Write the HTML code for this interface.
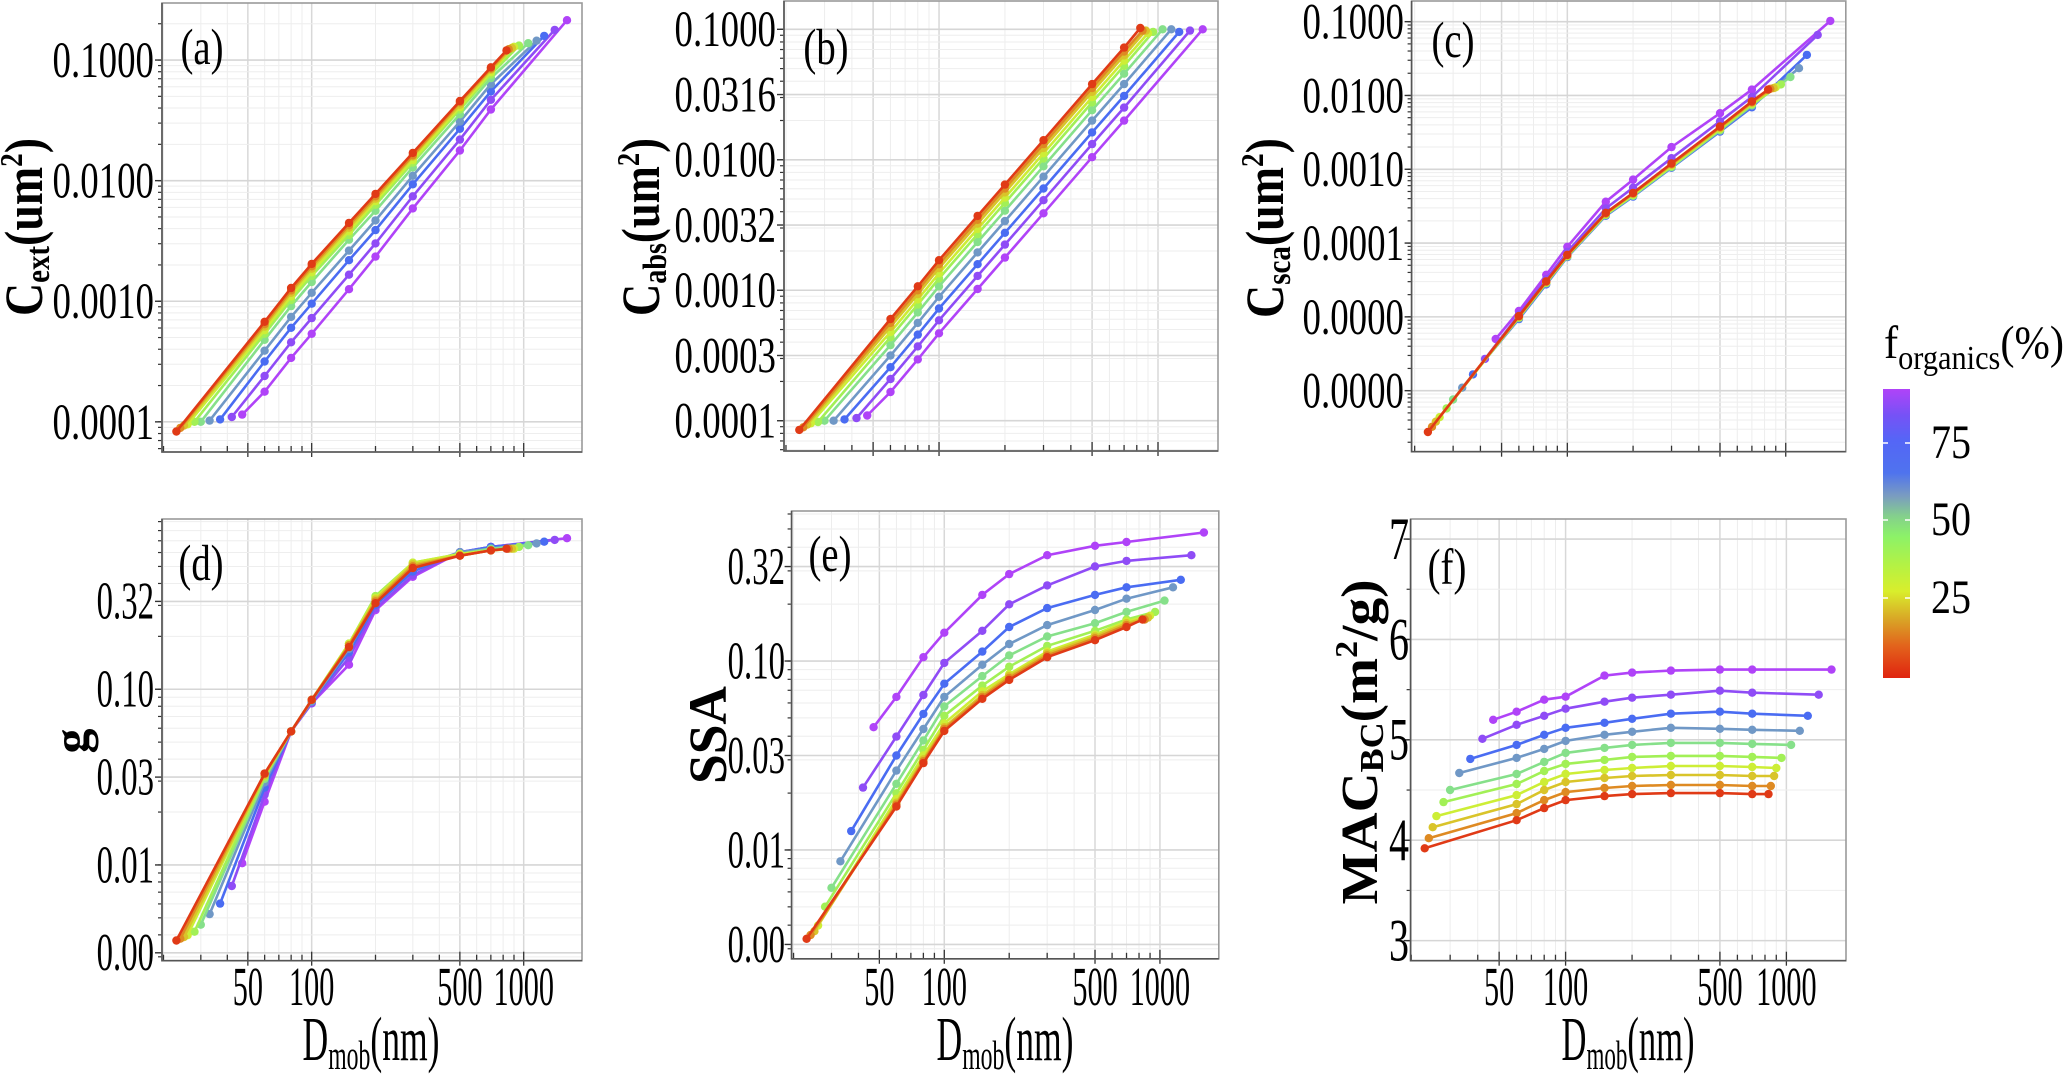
<!DOCTYPE html>
<html>
<head>
<meta charset="utf-8">
<style>
html,body{margin:0;padding:0;background:#fff;}
svg{display:block;font-family:"Liberation Serif",serif;}
</style>
</head>
<body>
<svg id="fig" width="2067" height="1076" viewBox="0 0 2067 1076" xmlns="http://www.w3.org/2000/svg">
<rect x="0" y="0" width="2067" height="1076" fill="#fff"/>
<g id="pa"></g>
<g id="pb"></g>
<g id="pc"></g>
<g id="pd"></g>
<g id="pe"></g>
<g id="pf"></g>

<!-- y axis titles -->
<text transform="translate(42,227) rotate(-90)" text-anchor="middle" font-weight="bold" font-size="54" textLength="178" lengthAdjust="spacingAndGlyphs">C<tspan font-size="34" dy="7">ext</tspan><tspan dy="-7">(um</tspan><tspan font-size="32" dy="-20">2</tspan><tspan dy="20">)</tspan></text>
<text transform="translate(659,227) rotate(-90)" text-anchor="middle" font-weight="bold" font-size="54" textLength="178" lengthAdjust="spacingAndGlyphs">C<tspan font-size="34" dy="7">abs</tspan><tspan dy="-7">(um</tspan><tspan font-size="32" dy="-20">2</tspan><tspan dy="20">)</tspan></text>
<text transform="translate(1283,228) rotate(-90)" text-anchor="middle" font-weight="bold" font-size="54" textLength="180" lengthAdjust="spacingAndGlyphs">C<tspan font-size="34" dy="7">sca</tspan><tspan dy="-7">(um</tspan><tspan font-size="32" dy="-20">2</tspan><tspan dy="20">)</tspan></text>
<text transform="translate(88,741) rotate(-90)" text-anchor="middle" font-weight="bold" font-size="50">g</text>
<text transform="translate(726,735) rotate(-90)" text-anchor="middle" font-weight="bold" font-size="54" textLength="98" lengthAdjust="spacingAndGlyphs">SSA</text>
<text transform="translate(1377,742) rotate(-90)" text-anchor="middle" font-weight="bold" font-size="52" textLength="325" lengthAdjust="spacingAndGlyphs">MAC<tspan font-size="34" dy="6">BC</tspan><tspan dy="-6">(m</tspan><tspan font-size="32" dy="-20">2</tspan><tspan dy="20">/g)</tspan></text>

<!-- x axis titles -->
<text transform="translate(371,1060) scale(1,1.15)" text-anchor="middle" font-size="54" textLength="137" lengthAdjust="spacingAndGlyphs">D<tspan font-size="36" dy="8">mob</tspan><tspan dy="-8">(nm)</tspan></text>
<text transform="translate(1005,1060) scale(1,1.15)" text-anchor="middle" font-size="54" textLength="137" lengthAdjust="spacingAndGlyphs">D<tspan font-size="36" dy="8">mob</tspan><tspan dy="-8">(nm)</tspan></text>
<text transform="translate(1628,1060) scale(1,1.15)" text-anchor="middle" font-size="54" textLength="133" lengthAdjust="spacingAndGlyphs">D<tspan font-size="36" dy="8">mob</tspan><tspan dy="-8">(nm)</tspan></text>

<!-- colorbar -->
<defs>
<linearGradient id="cbgrad" x1="0" y1="1" x2="0" y2="0">
<stop offset="0" stop-color="#e0240f"/>
<stop offset="0.11" stop-color="#e2621c"/>
<stop offset="0.2" stop-color="#d9a326"/>
<stop offset="0.3" stop-color="#d9ee2c"/>
<stop offset="0.39" stop-color="#b4f244"/>
<stop offset="0.49" stop-color="#8cf268"/>
<stop offset="0.56" stop-color="#84d08c"/>
<stop offset="0.63" stop-color="#7a9cc0"/>
<stop offset="0.71" stop-color="#4f73ee"/>
<stop offset="0.82" stop-color="#5466f6"/>
<stop offset="0.91" stop-color="#7652f6"/>
<stop offset="1" stop-color="#b043f8"/>
</linearGradient>
</defs>
<g>
<text transform="translate(1884,358) scale(1,1.12)" font-size="42" textLength="180" lengthAdjust="spacingAndGlyphs">f<tspan font-size="30" dy="10">organics</tspan><tspan dy="-10">(%)</tspan></text>
<rect x="1883" y="389" width="27" height="289" fill="url(#cbgrad)"/>
<line x1="1883" y1="443" x2="1888" y2="443" stroke="#fff" stroke-width="1.5"/>
<line x1="1905" y1="443" x2="1910" y2="443" stroke="#fff" stroke-width="1.5"/>
<line x1="1883" y1="520" x2="1888" y2="520" stroke="#fff" stroke-width="1.5"/>
<line x1="1905" y1="520" x2="1910" y2="520" stroke="#fff" stroke-width="1.5"/>
<line x1="1883" y1="598" x2="1888" y2="598" stroke="#fff" stroke-width="1.5"/>
<line x1="1905" y1="598" x2="1910" y2="598" stroke="#fff" stroke-width="1.5"/>
<text transform="translate(1931,458) scale(1,1.2)" font-size="40">75</text>
<text transform="translate(1931,535) scale(1,1.2)" font-size="40">50</text>
<text transform="translate(1931,613) scale(1,1.2)" font-size="40">25</text>
</g>
</svg>

<script>
// ---- shared data ----
const fOrganics = [5, 15, 25, 35, 45, 55, 65, 75, 85, 95];
const dStart = [23, 24, 25, 26, 28, 30, 33, 37, 42, 47];
const dGrid = [60, 80, 100, 150, 200, 300, 500, 700];
const dEnd = [830, 850, 880, 900, 950, 1050, 1150, 1250, 1400, 1600];

// log10 of C_ext (um^2): [start, grid..., end]
const cextLog = [
  [-4.08,-3.17,-2.89,-2.69,-2.35,-2.11,-1.77,-1.34,-1.06,-0.92],
  [-4.05,-3.19,-2.91,-2.71,-2.37,-2.13,-1.79,-1.35,-1.07,-0.91],
  [-4.03,-3.21,-2.93,-2.73,-2.39,-2.15,-1.80,-1.37,-1.08,-0.90],
  [-4.02,-3.24,-2.96,-2.76,-2.42,-2.17,-1.83,-1.39,-1.10,-0.89],
  [-4.00,-3.27,-2.99,-2.79,-2.45,-2.20,-1.85,-1.41,-1.12,-0.88],
  [-4.00,-3.32,-3.04,-2.84,-2.49,-2.25,-1.89,-1.45,-1.15,-0.86],
  [-3.99,-3.41,-3.13,-2.93,-2.58,-2.33,-1.96,-1.51,-1.20,-0.84],
  [-3.98,-3.50,-3.22,-3.02,-2.66,-2.41,-2.03,-1.57,-1.26,-0.80],
  [-3.96,-3.62,-3.34,-3.14,-2.78,-2.52,-2.13,-1.66,-1.33,-0.75],
  [-3.94,-3.75,-3.47,-3.27,-2.90,-2.63,-2.23,-1.75,-1.41,-0.67]
];
// log10 of C_abs
const cabsLog = [
  [-4.07,-3.22,-2.97,-2.77,-2.43,-2.19,-1.85,-1.42,-1.14,-0.99],
  [-4.05,-3.25,-3.00,-2.80,-2.46,-2.22,-1.88,-1.45,-1.17,-1.01],
  [-4.03,-3.28,-3.03,-2.83,-2.49,-2.25,-1.91,-1.48,-1.20,-1.01],
  [-4.02,-3.32,-3.07,-2.87,-2.53,-2.29,-1.95,-1.52,-1.24,-1.03],
  [-4.01,-3.36,-3.11,-2.91,-2.57,-2.33,-1.99,-1.56,-1.28,-1.02],
  [-4.00,-3.42,-3.17,-2.97,-2.63,-2.39,-2.05,-1.62,-1.34,-1.00],
  [-4.00,-3.50,-3.25,-3.05,-2.71,-2.47,-2.13,-1.70,-1.42,-1.00],
  [-3.99,-3.59,-3.34,-3.14,-2.80,-2.56,-2.22,-1.79,-1.51,-1.02],
  [-3.98,-3.68,-3.43,-3.23,-2.89,-2.65,-2.31,-1.88,-1.60,-1.01],
  [-3.96,-3.78,-3.53,-3.33,-2.99,-2.75,-2.41,-1.98,-1.70,-1.00]
];
// log10 of C_sca
const cscaLog = [
  [-6.56,-4.99,-4.52,-4.16,-3.59,-3.32,-2.92,-2.42,-2.08,-1.92],
  [-6.49,-4.99,-4.52,-4.16,-3.60,-3.33,-2.93,-2.43,-2.09,-1.91],
  [-6.42,-5.00,-4.53,-4.17,-3.60,-3.33,-2.94,-2.44,-2.10,-1.90],
  [-6.36,-5.00,-4.53,-4.17,-3.61,-3.34,-2.95,-2.45,-2.11,-1.89],
  [-6.24,-5.01,-4.54,-4.18,-3.61,-3.35,-2.96,-2.46,-2.12,-1.85],
  [-6.12,-5.01,-4.54,-4.18,-3.62,-3.36,-2.97,-2.47,-2.13,-1.75],
  [-5.96,-5.02,-4.55,-4.18,-3.62,-3.36,-2.97,-2.48,-2.14,-1.63],
  [-5.78,-5.03,-4.56,-4.19,-3.63,-3.37,-2.98,-2.49,-2.16,-1.45],
  [-5.57,-4.97,-4.49,-4.12,-3.53,-3.25,-2.85,-2.35,-2.02,-1.18],
  [-5.30,-4.92,-4.43,-4.05,-3.44,-3.14,-2.70,-2.24,-1.92,-0.99]
];
// log10 of asymmetry parameter g
const gLog = [
  [-2.43,-1.48,-1.24,-1.06,-0.76,-0.51,-0.31,-0.24,-0.21,-0.20],
  [-2.42,-1.48,-1.24,-1.06,-0.75,-0.50,-0.30,-0.24,-0.21,-0.20],
  [-2.41,-1.49,-1.24,-1.06,-0.75,-0.49,-0.29,-0.24,-0.21,-0.20],
  [-2.40,-1.49,-1.24,-1.06,-0.74,-0.48,-0.28,-0.23,-0.21,-0.20],
  [-2.38,-1.50,-1.24,-1.06,-0.74,-0.47,-0.28,-0.23,-0.21,-0.19],
  [-2.34,-1.51,-1.24,-1.06,-0.75,-0.48,-0.29,-0.23,-0.20,-0.18],
  [-2.28,-1.53,-1.24,-1.07,-0.77,-0.50,-0.31,-0.22,-0.20,-0.17],
  [-2.22,-1.56,-1.24,-1.07,-0.79,-0.52,-0.33,-0.22,-0.19,-0.16],
  [-2.12,-1.60,-1.24,-1.08,-0.82,-0.54,-0.35,-0.22,-0.19,-0.15],
  [-1.99,-1.64,-1.24,-1.08,-0.86,-0.55,-0.36,-0.22,-0.19,-0.14]
];
// log10 of SSA
const ssaLog = [
  [-2.47,-1.77,-1.54,-1.37,-1.20,-1.10,-0.98,-0.89,-0.82,-0.78],
  [-2.45,-1.76,-1.53,-1.36,-1.19,-1.09,-0.97,-0.88,-0.81,-0.78],
  [-2.43,-1.75,-1.52,-1.35,-1.18,-1.08,-0.96,-0.87,-0.80,-0.77],
  [-2.40,-1.73,-1.50,-1.33,-1.16,-1.07,-0.95,-0.86,-0.79,-0.76],
  [-2.30,-1.70,-1.47,-1.29,-1.13,-1.03,-0.92,-0.84,-0.78,-0.74],
  [-2.20,-1.65,-1.42,-1.24,-1.08,-0.97,-0.87,-0.80,-0.74,-0.68],
  [-2.06,-1.58,-1.36,-1.19,-1.02,-0.91,-0.81,-0.73,-0.67,-0.61],
  [-1.90,-1.50,-1.28,-1.12,-0.95,-0.82,-0.72,-0.65,-0.61,-0.57],
  [-1.67,-1.40,-1.18,-1.01,-0.84,-0.70,-0.60,-0.50,-0.47,-0.44],
  [-1.35,-1.19,-0.98,-0.85,-0.65,-0.54,-0.44,-0.39,-0.37,-0.32]
];
// MAC_BC (m^2/g)
const macBC = [
  [3.92,4.20,4.32,4.40,4.44,4.46,4.47,4.47,4.46,4.46],
  [4.02,4.27,4.40,4.48,4.52,4.54,4.55,4.55,4.54,4.54],
  [4.13,4.36,4.50,4.58,4.62,4.64,4.65,4.65,4.64,4.64],
  [4.24,4.45,4.58,4.66,4.70,4.72,4.74,4.74,4.73,4.72],
  [4.38,4.56,4.69,4.76,4.80,4.83,4.84,4.84,4.83,4.82],
  [4.50,4.66,4.78,4.87,4.92,4.95,4.97,4.97,4.96,4.95],
  [4.67,4.82,4.91,4.99,5.05,5.08,5.12,5.11,5.10,5.09],
  [4.81,4.95,5.05,5.12,5.17,5.21,5.26,5.28,5.26,5.24],
  [5.01,5.15,5.24,5.31,5.38,5.42,5.45,5.49,5.47,5.45],
  [5.20,5.28,5.40,5.43,5.64,5.67,5.69,5.70,5.70,5.70]
];

// tick label data
const xTickValues = [50, 100, 500, 1000];
const xTickLabels = ["50", "100", "500", "1000"];
const yTicksA = [-1, -2, -3, -4];
const yLabelsA = ["0.1000", "0.0100", "0.0010", "0.0001"];
const yTicksB = [-1, -1.5, -2, -2.5, -3, -3.5, -4];
const yLabelsB = ["0.1000", "0.0316", "0.0100", "0.0032", "0.0010", "0.0003", "0.0001"];
const yTicksC = [-1, -2, -3, -4, -5, -6];
const yLabelsC = ["0.1000", "0.0100", "0.0010", "0.0001", "0.0000", "0.0000"];
const yTicksG = [-0.5, -1, -1.5, -2, -2.5];
const yLabelsG = ["0.32", "0.10", "0.03", "0.01", "0.00"];
const yTicksF = [3, 4, 5, 6, 7];
const yLabelsF = ["3", "4", "5", "6", "7"];

// styling (not data)
const seriesColors = ["#e03a16","#de8a22","#d9c42a","#cdee36","#a2f056","#86e08a","#7098c6","#4a6cf2","#8f4cf6","#b043f8"];

const NS = "http://www.w3.org/2000/svg";
function mk(tag) { return document.createElementNS(NS, tag); }

function drawPanel(p) {
  const g = document.getElementById(p.gid);
  const sx = d => p.x0 + (Math.log10(d) - p.xlo) / (p.xhi - p.xlo) * (p.x1 - p.x0);
  const sy = v => p.y0 + (p.yhi - v) / (p.yhi - p.ylo) * (p.y1 - p.y0);

  const grid = mk("g");
  
  
  g.appendChild(grid);

  const xs = [20,30,40,50,60,70,80,90,100,200,300,400,500,600,700,800,900,1000,2000];
  xs.forEach(d => {
    const x = sx(d);
    if (x <= p.x0 || x >= p.x1) return;
    const major = xTickValues.indexOf(d) >= 0;
    const l = mk("line");
    
    
    l.setAttribute("x1", x); l.setAttribute("x2", x);
    l.setAttribute("y1", p.y0); l.setAttribute("y2", p.y1);
    l.setAttribute("stroke", major ? "#d8d8d8" : "#ededed");
    l.setAttribute("stroke-width", major ? 1.5 : 1);
    grid.appendChild(l);
    const t = mk("line");
    
    
    t.setAttribute("x1", x); t.setAttribute("x2", x);
    t.setAttribute("y1", major ? p.y1 - 9 : p.y1 - 6); t.setAttribute("y2", major ? p.y1 + 5 : p.y1);
    t.setAttribute("stroke", "#333"); t.setAttribute("stroke-width", 1.3);
    g.appendChild(t);
  });

  const hs = [];
  if (p.log) {
    for (let n = Math.floor(p.ylo) - 1; n <= Math.ceil(p.yhi); n++) {
      for (let k = 1; k <= 9; k++) hs.push(n + Math.log10(k));
    }
  } else {
    for (let v = 2.5; v <= 7.5; v += 0.5) hs.push(v);
  }
  hs.forEach(v => {
    const y = sy(v);
    if (y <= p.y0 || y >= p.y1) return;
    const l = mk("line");
    
    
    l.setAttribute("x1", p.x0); l.setAttribute("x2", p.x1);
    l.setAttribute("y1", y); l.setAttribute("y2", y);
    l.setAttribute("stroke", "#eeeeee"); l.setAttribute("stroke-width", 1);
    grid.appendChild(l);
    const t = mk("line");
    
    
    t.setAttribute("x1", p.x0 - 4); t.setAttribute("x2", p.x0);
    t.setAttribute("y1", y); t.setAttribute("y2", y);
    t.setAttribute("stroke", "#333"); t.setAttribute("stroke-width", 1.2);
    g.appendChild(t);
  });

  p.yTicks.forEach((v, i) => {
    const y = sy(v);
    const l = mk("line");
    
    
    l.setAttribute("x1", p.x0); l.setAttribute("x2", p.x1);
    l.setAttribute("y1", y); l.setAttribute("y2", y);
    l.setAttribute("stroke", "#d6d6d6"); l.setAttribute("stroke-width", 1.6);
    grid.appendChild(l);
    const t = mk("line");
    
    
    t.setAttribute("x1", p.x0 - 7); t.setAttribute("x2", p.x0);
    t.setAttribute("y1", y); t.setAttribute("y2", y);
    t.setAttribute("stroke", "#333"); t.setAttribute("stroke-width", 1.4);
    g.appendChild(t);
    const tx = mk("text");
    
    
    tx.setAttribute("transform", "translate(" + p.ylx + "," + (y + p.yfs * 0.33 * p.ysy) + ") scale(" + p.ysx + "," + p.ysy + ")");
    tx.setAttribute("text-anchor", "end");
    tx.setAttribute("font-size", p.yfs);
    tx.textContent = p.yLabels[i];
    g.appendChild(tx);
  });

  if (p.xLabels) {
    xTickValues.forEach((d, i) => {
      const tx = mk("text");
      
      
      tx.setAttribute("transform", "translate(" + sx(d) + ",1005) scale(0.72,1.3)");
      tx.setAttribute("text-anchor", "middle");
      tx.setAttribute("font-size", 42);
      tx.textContent = xTickLabels[i];
      g.appendChild(tx);
    });
  }

  const fr = mk("rect");
  
  
  fr.setAttribute("x", p.x0); fr.setAttribute("y", p.y0);
  fr.setAttribute("width", p.x1 - p.x0); fr.setAttribute("height", p.y1 - p.y0);
  fr.setAttribute("fill", "none"); fr.setAttribute("stroke", "#9a9a9a"); fr.setAttribute("stroke-width", 1.6);
  g.appendChild(fr);
  const ax = mk("path");
  
  
  ax.setAttribute("d", "M" + p.x0 + "," + p.y0 + "V" + p.y1 + "H" + p.x1);
  ax.setAttribute("fill", "none"); ax.setAttribute("stroke", "#555"); ax.setAttribute("stroke-width", 1.6);
  g.appendChild(ax);

  for (let i = fOrganics.length - 1; i >= 0; i--) {
    const ds = [dStart[i]].concat(dGrid, [dEnd[i]]);
    const vals = p.data[i];
    const sg = mk("g");
    
    
    g.appendChild(sg);
    const pts = ds.map((d, j) => sx(d).toFixed(1) + "," + sy(vals[j]).toFixed(1)).join(" ");
    const pl = mk("polyline");
    
    
    pl.setAttribute("points", pts);
    pl.setAttribute("fill", "none");
    pl.setAttribute("stroke", seriesColors[i]);
    pl.setAttribute("stroke-width", 2.6);
    sg.appendChild(pl);
    ds.forEach((d, j) => {
      const c = mk("circle");
      
      
      c.setAttribute("cx", sx(d).toFixed(1));
      c.setAttribute("cy", sy(vals[j]).toFixed(1));
      c.setAttribute("r", 4.2);
      c.setAttribute("fill", seriesColors[i]);
      sg.appendChild(c);
    });
  }

  const lb = mk("text");
  
  
  lb.setAttribute("transform", "translate(" + p.lx + "," + p.ly + ") scale(0.88,1.15)");
  lb.setAttribute("text-anchor", "middle");
  lb.setAttribute("font-size", 44);
  lb.textContent = "(" + p.key + ")";
  g.appendChild(lb);
}

const panels = [
  {gid:"pa", key:"a", x0:162, x1:582, xlo:1.294, xhi:3.275, y0:3, y1:452, ylo:-4.25, yhi:-0.527, log:true, data:cextLog, yTicks:yTicksA, yLabels:yLabelsA, ylx:154, yfs:41, ysx:0.9, ysy:1.25, xLabels:false, lx:202, ly:64},
  {gid:"pb", key:"b", x0:784, x1:1218, xlo:1.292, xhi:3.274, y0:1, y1:451, ylo:-4.232, yhi:-0.783, log:true, data:cabsLog, yTicks:yTicksB, yLabels:yLabelsB, ylx:776, yfs:41, ysx:0.9, ysy:1.25, xLabels:false, lx:826, ly:64},
  {gid:"pc", key:"c", x0:1411.6, x1:1845.8, xlo:1.287, xhi:3.275, y0:1, y1:451.7, ylo:-6.827, yhi:-0.72, log:true, data:cscaLog, yTicks:yTicksC, yLabels:yLabelsC, ylx:1404, yfs:41, ysx:0.9, ysy:1.25, xLabels:false, lx:1453, ly:57},
  {gid:"pd", key:"d", x0:162, x1:582, xlo:1.294, xhi:3.275, y0:519, y1:960.7, ylo:-2.545, yhi:-0.031, log:true, data:gLog, yTicks:yTicksG, yLabels:yLabelsG, ylx:154, yfs:42, ysx:0.78, ysy:1.25, xLabels:true, lx:201, ly:580},
  {gid:"pe", key:"e", x0:791.6, x1:1218.8, xlo:1.292, xhi:3.273, y0:511, y1:958.8, ylo:-2.576, yhi:-0.206, log:true, data:ssaLog, yTicks:yTicksG, yLabels:yLabelsG, ylx:785, yfs:42, ysx:0.78, ysy:1.25, xLabels:true, lx:830, ly:571},
  {gid:"pf", key:"f", x0:1410.6, x1:1846, xlo:1.298, xhi:3.27, y0:519, y1:960.7, ylo:2.8, yhi:7.2, log:false, data:macBC, yTicks:yTicksF, yLabels:yLabelsF, ylx:1409, yfs:50, ysx:0.8, ysy:1.2, xLabels:true, lx:1447, ly:584}
];
panels.forEach(drawPanel);
</script>
</body>
</html>
